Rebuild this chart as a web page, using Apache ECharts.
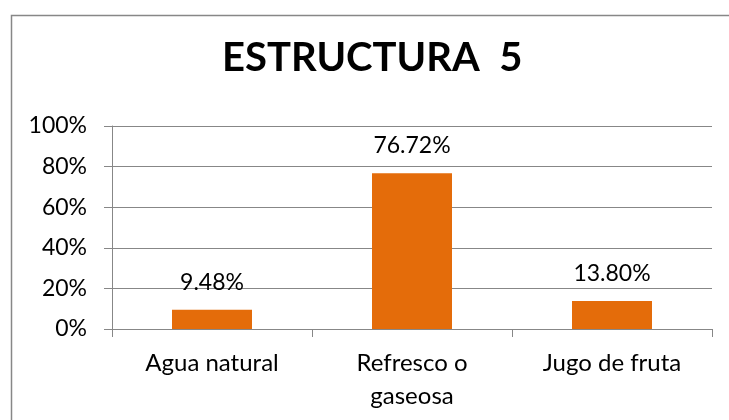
<!DOCTYPE html>
<html>
<head>
<meta charset="utf-8">
<script src="https://cdn.jsdelivr.net/npm/echarts@6/dist/echarts.min.js"></script>
<style>
  html, body { margin: 0; padding: 0; background: #fff; }
  #main { width: 729px; height: 420px; }
</style>
</head>
<body>
<div id="main"></div>
<script>
const categories = ['Agua natural', 'Refresco o\ngaseosa', 'Jugo de fruta'];
const values = [9.48, 76.72, 13.80];
const titleText = 'ESTRUCTURA  5';

const chart = echarts.init(document.getElementById('main'));
const font = 'Lato, "Open Sans", sans-serif';

const option = {
  animation: false,
  title: {
    text: titleText,
    left: 222,
    top: 38,
    padding: 0,
    textStyle: { fontFamily: font, fontWeight: 'bold', fontSize: 40, color: '#000' }
  },
  // outer chart border (right and bottom edges fall outside the picture)
  graphic: [{
    type: 'rect',
    shape: { x: 11.5, y: 15.5, width: 800, height: 500 },
    style: { fill: 'none', stroke: '#878787', lineWidth: 1.5 }
  }],
  grid: { left: 112, right: 17, top: 126, bottom: 91 },
  xAxis: {
    type: 'category',
    data: categories,
    axisLine: { lineStyle: { color: '#878787' } },
    axisTick: { show: true, length: 8, lineStyle: { color: '#878787' } },
    axisLabel: { color: '#000', fontFamily: font, fontSize: 24, margin: 18, lineHeight: 33 }
  },
  yAxis: {
    type: 'value',
    min: 0,
    max: 100,
    interval: 20,
    axisLine: { show: true, lineStyle: { color: '#878787' } },
    axisTick: { show: true, length: 8, lineStyle: { color: '#878787' } },
    splitLine: { lineStyle: { color: '#878787' } },
    axisLabel: { formatter: '{value}%', color: '#000', fontFamily: font, fontSize: 23, margin: 25 }
  },
  series: [{
    type: 'bar',
    data: values,
    barWidth: '40%',
    itemStyle: { color: '#E46C0A' },
    label: {
      show: true,
      position: 'top',
      distance: 16,
      formatter: p => p.value.toFixed(2) + '%',
      color: '#000',
      fontFamily: font,
      fontSize: 23
    }
  }]
};
chart.setOption(option);
</script>
</body>
</html>
